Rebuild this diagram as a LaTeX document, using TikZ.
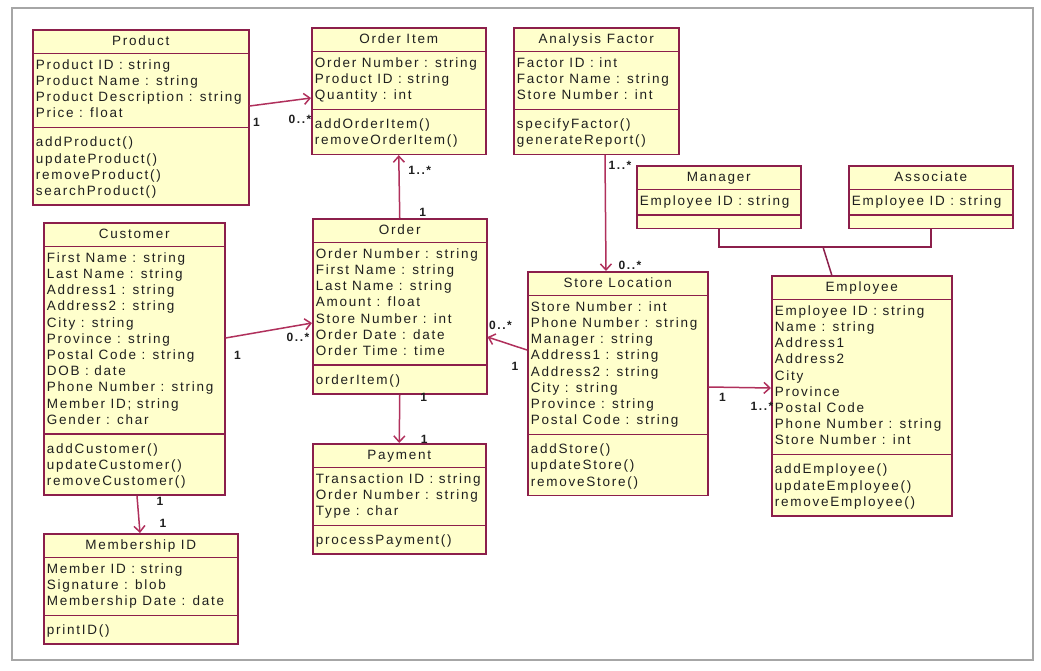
\documentclass[tikz,border=0pt]{standalone}
\usepackage{fontspec}
\setmainfont{Liberation Sans}[LetterSpace=13]
\usetikzlibrary{shapes.multipart, arrows.meta}
\definecolor{classfill}{HTML}{FFFFCC}
\definecolor{classline}{HTML}{8C1F4B}
\definecolor{linkline}{HTML}{B0305C}
\tikzstyle{umlclass}=[draw=classline, fill=classfill, line width=1.5pt, rectangle split, rectangle split parts=3, rectangle split part align={center,left,left}, anchor=north west, inner xsep=3pt, inner ysep=4pt, font=\fontsize{13.5}{16.2}\selectfont, text=black!88]
\tikzstyle{link}=[->, draw=linkline, line width=1.5pt]
\tikzstyle{gen}=[draw=classline, line width=1.5pt]
\tikzstyle{mult}=[font=\fontsize{12}{14}\selectfont\bfseries, inner sep=1pt, text=black!88]
\newcommand{\ttl}[1]{\rule[-3.5pt]{0pt}{14pt}#1}
\newcommand{\attrs}[1]{\begin{tabular}{@{}l@{}}#1\end{tabular}}
\newcommand{\ops}[1]{\begin{tabular}{@{}l@{}}\rule{0pt}{14.5pt}#1\end{tabular}}

\begin{document}
\begin{tikzpicture}[>={Straight Barb[length=6pt,width=11pt]}, x=1pt, y=-1pt]
    \useasboundingbox (0,0) rectangle (1041,670);
    \fill[white] (0,0) rectangle (1041,670);
    \draw[black!35, line width=1.2pt] (12,8) rectangle (1033,660);

    \node[umlclass, minimum width=216pt] (prod) at (32,29) {\ttl{Product}\nodepart{two}\attrs{Product ID : string\\Product Name : string\\Product Description : string\\Price : float}\nodepart{three}\ops{addProduct()\\updateProduct()\\removeProduct()\\searchProduct()}};
    \node[umlclass, minimum width=174pt] (oi) at (311,27) {\ttl{Order Item}\nodepart{two}\attrs{Order Number : string\\Product ID : string\\Quantity : int}\nodepart{three}\ops{addOrderItem()\\removeOrderItem()}};
    \node[umlclass, minimum width=165pt] (af) at (513,27) {\ttl{Analysis Factor}\nodepart{two}\attrs{Factor ID : int\\Factor Name : string\\Store Number : int}\nodepart{three}\ops{specifyFactor()\\generateReport()}};
    \node[umlclass, minimum width=164pt] (mgr) at (636,165) {\ttl{Manager}\nodepart{two}\attrs{Employee ID : string}\nodepart{three}\rule{0pt}{4pt}};
    \node[umlclass, minimum width=164pt] (associate) at (848,165) {\ttl{Associate}\nodepart{two}\attrs{Employee ID : string}\nodepart{three}\rule{0pt}{4pt}};
    \node[umlclass, minimum width=181pt] (cust) at (43,222) {\ttl{Customer}\nodepart{two}\attrs{First Name : string\\Last Name : string\\Address1 : string\\Address2 : string\\City : string\\Province : string\\Postal Code : string\\DOB : date\\Phone Number : string\\Member ID; string\\Gender : char}\nodepart{three}\ops{addCustomer()\\updateCustomer()\\removeCustomer()}};
    \node[umlclass, minimum width=174pt] (order) at (312,218) {\ttl{Order}\nodepart{two}\attrs{Order Number : string\\First Name : string\\Last Name : string\\Amount : float\\Store Number : int\\Order Date : date\\Order Time : time}\nodepart{three}\ops{orderItem()}};
    \node[umlclass, minimum width=180pt] (store) at (527,271) {\ttl{Store Location}\nodepart{two}\attrs{Store Number : int\\Phone Number : string\\Manager : string\\Address1 : string\\Address2 : string\\City : string\\Province : string\\Postal Code : string}\nodepart{three}\ops{addStore()\\updateStore()\\removeStore()}};
    \node[umlclass, minimum width=180pt] (emp) at (771,275) {\ttl{Employee}\nodepart{two}\attrs{Employee ID : string\\Name : string\\Address1\\Address2\\City\\Province\\Postal Code\\Phone Number : string\\Store Number : int}\nodepart{three}\ops{addEmployee()\\updateEmployee()\\removeEmployee()}};
    \node[umlclass, minimum width=173pt] (pay) at (312,443) {\ttl{Payment}\nodepart{two}\attrs{Transaction ID : string\\Order Number : string\\Type : char}\nodepart{three}\ops{processPayment()}};
    \node[umlclass, minimum width=194pt] (mem) at (43,533) {\ttl{Membership ID}\nodepart{two}\attrs{Member ID : string\\Signature : blob\\Membership Date : date}\nodepart{three}\ops{printID()}};

    \draw[link] ([yshift=-77pt]prod.north east) -- node[mult, at start, xshift=7pt, yshift=-16pt] {1} node[mult, at end, xshift=-11pt, yshift=-21pt] {0..*} ([yshift=-71pt]oi.north west);
    \draw[link] (order.north) -- node[mult, at start, xshift=23pt, yshift=6pt] {1} node[mult, at end, xshift=21pt, yshift=-15pt] {1..*} (oi.south);
    \draw[link] ([yshift=-116pt]cust.north east) -- node[mult, at start, xshift=12pt, yshift=-17pt] {1} node[mult, at end, xshift=-14pt, yshift=-14pt] {0..*} ([yshift=-105pt]order.north west);
    \draw[link] ([yshift=-79pt]store.north west) -- node[mult, at start, xshift=-12pt, yshift=-16pt] {1} node[mult, at end, xshift=13pt, yshift=12pt] {0..*} ([yshift=-119pt]order.north east);
    \draw[link] (order.south) -- node[mult, at start, xshift=24pt, yshift=-3pt] {1} node[mult, at end, xshift=25pt, yshift=4pt] {1} (pay.north);
    \draw[link] ([xshift=92pt]af.south west) -- node[mult, at start, xshift=15pt, yshift=-10pt] {1..*} node[mult, at end, xshift=24pt, yshift=6pt] {0..*} ([xshift=79pt]store.north west);
    \draw[link] ([yshift=-116pt]store.north east) -- node[mult, at start, xshift=14pt, yshift=-10pt] {1} node[mult, at end, xshift=-9pt, yshift=-18pt] {1..*} ([yshift=-113pt]emp.north west);
    \draw[link] ([xshift=94pt]cust.south west) -- node[mult, at start, xshift=23pt, yshift=-5pt] {1} node[mult, at end, xshift=23pt, yshift=10pt] {1} ([xshift=97pt]mem.north west);

    \coordinate (hub) at (823,247);
    \draw[gen] (mgr.south) |- (hub) -| (associate.south);
    \draw[gen] (hub) -- ([xshift=-30pt]emp.north);
\end{tikzpicture}
\end{document}
